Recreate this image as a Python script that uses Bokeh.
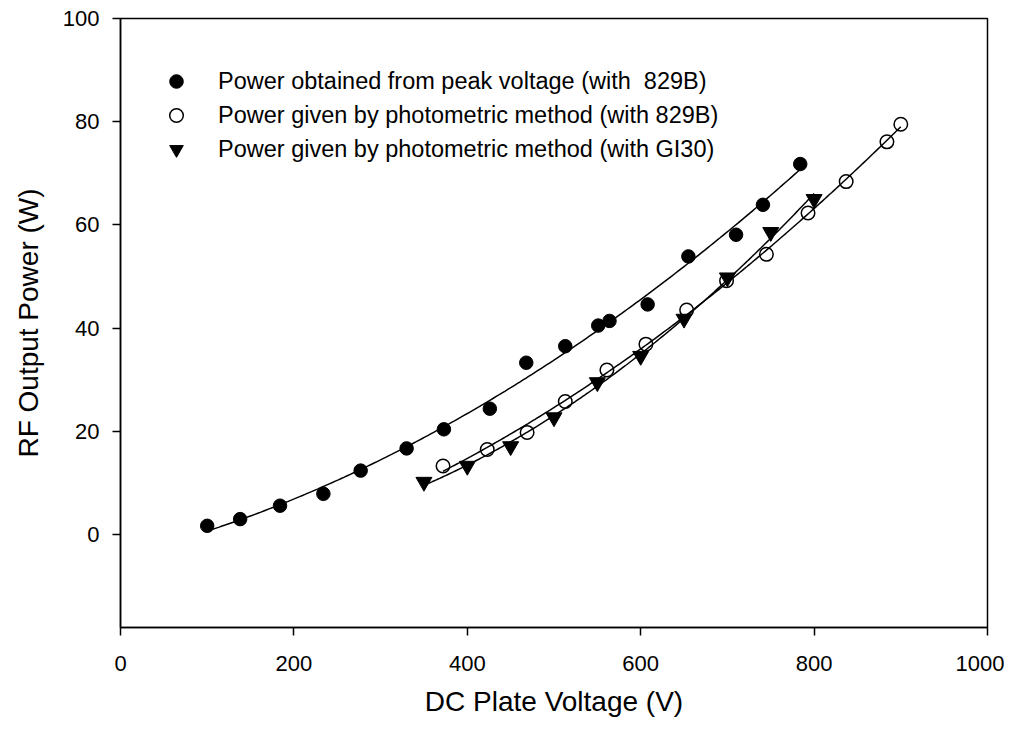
import numpy as np
from bokeh.plotting import figure
from bokeh.models import FixedTicker, Legend, LegendItem, Range1d
from bokeh.embed import file_html
from bokeh.resources import INLINE

# ---- data ----
peak_x = [100, 138, 184, 234, 277, 330, 373, 426, 468, 513, 551, 564, 608, 655, 710, 741, 784]
peak_y = [1.7, 3.0, 5.6, 7.9, 12.4, 16.7, 20.4, 24.4, 33.3, 36.5, 40.5, 41.4, 44.6, 53.9, 58.1, 63.9, 71.8]

photo829_x = [372, 423, 469, 513, 561, 606, 653, 699, 745, 793, 837, 884, 900]
photo829_y = [13.3, 16.5, 19.8, 25.8, 31.9, 36.9, 43.5, 49.2, 54.3, 62.3, 68.4, 76.1, 79.5]

gi30_x = [350, 400, 450, 500, 550, 600, 650, 700, 750, 800]
gi30_y = [10.2, 13.3, 17.1, 22.7, 29.5, 34.6, 41.8, 49.8, 58.6, 65.0]

series_labels = [
    "Power obtained from peak voltage (with  829B)",
    "Power given by photometric method (with 829B)",
    "Power given by photometric method (with GI30)",
]
x_ticks = [0, 200, 400, 600, 800, 1000]
y_ticks = [0, 20, 40, 60, 80, 100]
x_title = "DC Plate Voltage (V)"
y_title = "RF Output Power (W)"

FONT = "Liberation Sans"

p = figure(width=1004, height=719, output_backend="svg", toolbar_location=None,
           x_range=Range1d(0, 1000), y_range=Range1d(-18, 100),
           min_border_left=120, min_border_right=17, min_border_top=18, min_border_bottom=91)

p.grid.visible = False
p.outline_line_color = "black"
p.outline_line_width = 1.5
p.background_fill_color = "white"
p.border_fill_color = "white"

for ax, ticks in ((p.xaxis[0], x_ticks), (p.yaxis[0], y_ticks)):
    ax.ticker = FixedTicker(ticks=ticks)
    ax.minor_tick_line_color = None
    ax.major_tick_in = 0
    ax.major_tick_out = 8
    ax.major_tick_line_width = 1.5
    ax.axis_line_width = 1.5
    ax.axis_line_color = "black"
    ax.major_tick_line_color = "black"
    ax.major_label_text_font = FONT
    ax.major_label_text_font_size = "22px"
    ax.major_label_text_color = "black"
    ax.axis_label_text_font = FONT
    ax.axis_label_text_font_size = "28px"
    ax.axis_label_text_font_style = "normal"
    ax.axis_label_text_color = "black"

p.xaxis.axis_label = x_title
p.yaxis.axis_label = y_title
p.xaxis.major_label_standoff = 20
p.xaxis.axis_label_standoff = 12
p.yaxis.major_label_standoff = 13
p.yaxis.axis_label_standoff = 16


def fit_line(xs, ys):
    c = np.polyfit(xs, ys, 2)
    xx = np.linspace(min(xs), max(xs), 200)
    return xx, np.polyval(c, xx)


for xs, ys in ((peak_x, peak_y), (photo829_x, photo829_y), (gi30_x, gi30_y)):
    fx, fy = fit_line(xs, ys)
    p.line(fx, fy, line_color="black", line_width=1.5)

r1 = p.scatter(peak_x, peak_y, marker="circle", size=13.5, fill_color="black", line_color="black")
r2 = p.scatter(photo829_x, photo829_y, marker="circle", size=13.5, fill_color=None,
               line_color="black", line_width=1.5)
r3 = p.scatter(gi30_x, gi30_y, marker="inverted_triangle", size=16, fill_color="black",
               line_color="black")

legend = Legend(items=[LegendItem(label=series_labels[0], renderers=[r1]),
                       LegendItem(label=series_labels[1], renderers=[r2]),
                       LegendItem(label=series_labels[2], renderers=[r3])],
                location=(36, 461), padding=0, margin=0, spacing=0,
                glyph_width=40, glyph_height=34, label_standoff=22,
                label_text_font=FONT, label_text_font_size="23.5px",
                label_text_color="black",
                border_line_color=None, background_fill_alpha=0)
p.add_layout(legend, "center")

open("out.html", "w").write(file_html(p, INLINE))
